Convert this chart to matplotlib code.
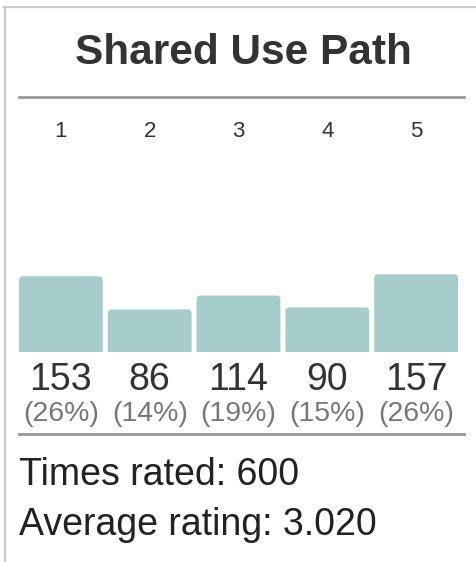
import matplotlib.pyplot as plt
from matplotlib.lines import Line2D
from matplotlib.patches import FancyBboxPatch
from matplotlib.transforms import blended_transform_factory

plt.rcParams['font.family'] = ['Liberation Sans', 'DejaVu Sans']

# Data
title = 'Shared Use Path'
ratings = [1, 2, 3, 4, 5]
counts = [153, 86, 114, 90, 157]

total = sum(counts)
average = sum(r * c for r, c in zip(ratings, counts)) / total
percents = [int(100 * c / total + 0.5) for c in counts]

W, H = 477, 562
fig = plt.figure(figsize=(W / 100, H / 100), dpi=100)

# Panel borders (light gray, top and left)
fig.add_artist(Line2D([4 / W, 1], [1 - 6.5 / H, 1 - 6.5 / H], color='#cccccc', lw=1.6))
fig.add_artist(Line2D([5.5 / W, 5.5 / W], [0, 1 - 6.5 / H], color='#cccccc', lw=1.6))

# Title and rules
fig.text(243 / W, 1 - 64 / H, title, ha='center', va='baseline',
         fontsize=30.5, fontweight='bold', color='#333333')
for y in (96.5, 433.5):
    fig.add_artist(Line2D([19 / W, 464 / W], [1 - y / H, 1 - y / H], color='#999999', lw=2))

# Bars
ax_bottom = 352
ax_h = 158
ax_w = 439
ax = fig.add_axes([19 / W, 1 - ax_bottom / H, ax_w / W, ax_h / H])
x = list(range(len(ratings)))
xlim = (-0.472, 4.472)
ylim = (0, ax_h / 0.495)
bars = ax.bar(x, counts, width=0.944, color='#a6cdc9')
ax.set_xlim(*xlim)
ax.set_ylim(*ylim)
ax.axis('off')

# rounded top corners: redraw each bar as a rounded box, bottom hidden below the axis
x_per_px = (xlim[1] - xlim[0]) / ax_w
y_per_px = (ylim[1] - ylim[0]) / ax_h
r = 4 * x_per_px
for b in bars:
    b.set_visible(False)
    bx, bw, bh = b.get_x(), b.get_width(), b.get_height()
    extra = 2 * r * y_per_px / x_per_px
    ax.add_patch(FancyBboxPatch((bx, -extra), bw, bh + extra,
                                boxstyle=f'round,pad=0,rounding_size={r}',
                                mutation_aspect=y_per_px / x_per_px,
                                fc='#a6cdc9', ec='none'))

trans = blended_transform_factory(ax.transData, ax.transAxes)
for i, rt in enumerate(ratings):
    ax.annotate(str(rt), xy=(i, 1), xycoords=trans, xytext=(0, 57),
                textcoords='offset pixels', ha='center', va='baseline',
                fontsize=16, color='#333333', annotation_clip=False)
    ax.annotate(str(counts[i]), xy=(i, 0), xycoords=trans, xytext=(0, -38),
                textcoords='offset pixels', ha='center', va='baseline',
                fontsize=27, color='#333333', annotation_clip=False)
    ax.annotate(f'({percents[i]}%)', xy=(i, 0), xycoords=trans, xytext=(0, -69),
                textcoords='offset pixels', ha='center', va='baseline',
                fontsize=20.5, color='#777777', annotation_clip=False)

# Summary
fig.text(19 / W, 1 - 485 / H, f'Times rated: {total}', ha='left', va='baseline',
         fontsize=27, color='#222222')
fig.text(19 / W, 1 - 535 / H, f'Average rating: {average:.3f}', ha='left', va='baseline',
         fontsize=27, color='#222222')

plt.savefig('out.png', dpi=100)
